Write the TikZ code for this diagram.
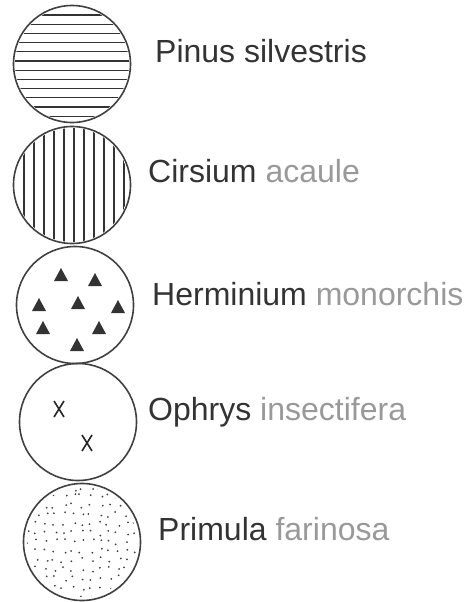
\documentclass[tikz,border=0pt]{standalone}
\usepackage{fontspec}
\setmainfont{Liberation Sans}
\usepackage{tikz}
\usetikzlibrary{calc,positioning}

\begin{document}
\begin{tikzpicture}[
    x=1pt, y=-1pt,
    spot/.style={circle, draw=black!75, line width=1.6pt, minimum size=117pt, inner sep=0pt},
    hatch/.style={black!80, line width=1.3pt},
    species/.style={anchor=base west, inner sep=0pt, font=\fontsize{32}{38}\selectfont, text=black!80},
    faded/.style={text=black!40}
  ]
  \useasboundingbox (0,0) rectangle (476,602);

  % Pinus silvestris (rayas horizontales)
  \node[spot] (pinus) at (72,64) {};
  \begin{scope}
    \clip (pinus) circle[radius=57];
    \foreach \k in {0,...,11}
      \draw[hatch] ($(pinus)+(-60,-49+9.2*\k)$) -- ++(120,0);
  \end{scope}
  \node[species] (pinuslbl) at (155,63) {Pinus silvestris};

  % Cirsium acaule (rayas verticales)
  \node[spot] (cirsium) at (72,185) {};
  \begin{scope}
    \clip (cirsium) circle[radius=57];
    \foreach \k in {0,...,10}
      \draw[hatch] ($(cirsium)+(-48+10*\k,-60)$) -- ++(0,120);
  \end{scope}
  \node[species] (cirsiumlbl) at (148,182) {Cirsium \textcolor{black!40}{acaule}};

  % Herminium monorchis (triangulos)
  \node[spot] (herminium) at (75,305) {};
  \foreach \tx/\ty in {61/275, 95/280, 39/305, 78/303, 118/307, 43/328, 99/328, 77/345}
    \fill[black!80] (\tx-7,\ty+6) -- (\tx+7,\ty+6) -- (\tx,\ty-7) -- cycle;
  \node[species] (herminiumlbl) at (152,305) {Herminium \textcolor{black!40}{monorchis}};

  % Ophrys insectifera (cruces)
  \node[spot] (ophrys) at (78,422) {};
  \foreach \tx/\ty in {59/409, 87/443}
    \draw[black!85, line width=1.6pt] (\tx-5,\ty-8) -- (\tx+5,\ty+8) (\tx+5,\ty-8) -- (\tx-5,\ty+8);
  \node[species] (ophryslbl) at (148,420) {Ophrys \textcolor{black!40}{insectifera}};

  % Primula farinosa (puntos)
  \node[spot] (primula) at (82,542) {};
  \begin{scope}
    \clip (primula) circle[radius=55];
    \pgfmathsetseed{11}
    \foreach \gx in {-54,-45,...,54}
      \foreach \gy in {-54,-45,...,54} {
        \pgfmathsetmacro\jx{\gx+6*rnd-3}
        \pgfmathsetmacro\jy{\gy+6*rnd-3}
        \fill[black!75] ($(primula)+(\jx,\jy)$) circle[radius=1];
      }
  \end{scope}
  \node[species] (primulalbl) at (158,540) {Primula \textcolor{black!40}{farinosa}};

\end{tikzpicture}
\end{document}
